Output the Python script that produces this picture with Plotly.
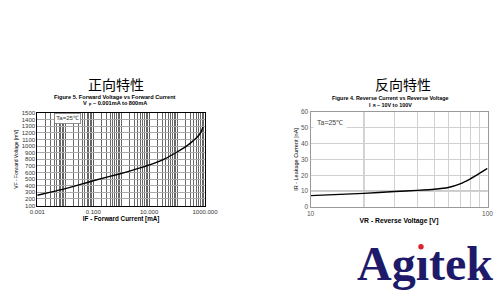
import plotly.graph_objects as go

# ---- data ----
fwd_current_mA = [0.001, 0.01, 0.1, 1, 3.6, 14, 40, 100, 200, 340, 500, 675, 850]
fwd_voltage_mV = [255, 355, 475, 585, 655, 735, 815, 910, 987, 1063, 1125, 1190, 1290]

rev_voltage_V = [10, 20, 30, 40, 50, 60, 70, 80, 90, 100]
rev_current_nA = [7.2, 8.6, 9.8, 10.5, 11.2, 12.3, 14.6, 17.8, 21.2, 24.4]

fwd_major_vals = [0.001, 0.1, 10, 1000]
fwd_major_text = ["0.001", "0.100", "10.000", "1000.000"]
fwd_minor_vals = [m * d for d in [0.001, 0.01, 0.1, 1, 10, 100] for m in range(1, 10)
                  if not (m == 1 and d in (0.001, 0.1, 10))]
fwd_y_ticks = list(range(100, 1501, 100))

rev_major_vals = [10, 100]
rev_major_text = ["10", "100"]
rev_minor_vals = [20, 30, 40, 50, 60, 70, 80, 90]
rev_y_ticks = [0, 10, 20, 30, 40, 50, 60]

W, H = 500, 300
def px(x): return x / W
def py(y): return 1 - y / H

SANS = "Liberation Sans, Arial, sans-serif"
CJK = "Noto Sans CJK SC"

fig = go.Figure()
fig.add_trace(go.Scatter(x=fwd_current_mA, y=fwd_voltage_mV, mode="lines",
                         line=dict(color="black", width=1.4, shape="spline", smoothing=0.6),
                         xaxis="x", yaxis="y", showlegend=False, hoverinfo="skip"))
fig.add_trace(go.Scatter(x=rev_voltage_V, y=rev_current_nA, mode="lines",
                         line=dict(color="black", width=1.4, shape="spline", smoothing=0.6),
                         xaxis="x2", yaxis="y2", showlegend=False, hoverinfo="skip"))

fig.update_layout(
    width=W, height=H, margin=dict(l=0, r=0, t=0, b=0),
    paper_bgcolor="white", plot_bgcolor="white",
    xaxis=dict(domain=[px(37.3), px(205)], type="log", range=[-3, 3],
               tickvals=fwd_major_vals, ticktext=fwd_major_text, ticks="",
               showgrid=True, gridcolor="#555", gridwidth=0.8,
               minor=dict(tickvals=fwd_minor_vals, showgrid=True, gridcolor="#666", gridwidth=0.7, ticks=""),
               showline=True, linecolor="black", linewidth=1, mirror=True,
               tickfont=dict(family=SANS, size=6, color="#333"), zeroline=False, anchor="y",
               automargin=False,
               title=dict(text="<b>IF - Forward Current [mA]</b>", standoff=2,
                          font=dict(family=SANS, size=6.3, color="black"))),
    yaxis=dict(domain=[py(205.5), py(113)], range=[100, 1500],
               tickvals=fwd_y_ticks, ticks="", showgrid=True, gridcolor="#aaa", gridwidth=0.8,
               showline=True, linecolor="black", linewidth=1, mirror=True,
               tickfont=dict(family=SANS, size=6, color="#333"), zeroline=False, anchor="x",
               automargin=False,
               title=dict(text="VF - Forward Voltage [mV]", standoff=2,
                          font=dict(family=SANS, size=5, color="black"))),
    xaxis2=dict(domain=[px(310.5), px(487.5)], type="log", range=[1, 2],
                tickvals=rev_major_vals, ticktext=rev_major_text, ticks="",
                showgrid=False,
                minor=dict(tickvals=rev_minor_vals, showgrid=True, gridcolor="#d0d0d0", gridwidth=1, ticks=""),
                showline=True, linecolor="#999", linewidth=1, mirror=True,
                tickfont=dict(family=SANS, size=6.5, color="#555"), zeroline=False, anchor="y2",
                automargin=False,
                title=dict(text="<b>VR - Reverse Voltage [V]</b>", standoff=2,
                           font=dict(family=SANS, size=6.8, color="black"))),
    yaxis2=dict(domain=[py(207), py(112)], range=[0, 60],
                tickvals=rev_y_ticks, ticks="", showgrid=True, gridcolor="#d0d0d0", gridwidth=1,
                showline=True, linecolor="#999", linewidth=1, mirror=True,
                tickfont=dict(family=SANS, size=6.5, color="#555"), zeroline=False, anchor="x2",
                automargin=False,
                title=dict(text="IR - Leakage Current [nA]", standoff=2,
                           font=dict(family=SANS, size=5.5, color="black"))),
)

# darker grid lines at 20 V and 10 nA
fig.add_shape(type="line", xref="x2 domain", yref="y2", x0=0, x1=1, y0=10, y1=10,
              line=dict(color="#666", width=1), layer="below")
fig.add_shape(type="line", xref="x2", yref="y2 domain", x0=20, x1=20, y0=0, y1=1,
              line=dict(color="#666", width=1), layer="below")

ann = []
def T(x, y, text, size, bold=False, family=SANS, color="black", angle=0, xanchor="center", **kw):
    ann.append(dict(x=px(x), y=py(y), xref="paper", yref="paper", text=("<b>%s</b>" % text) if bold else text,
                    showarrow=False, font=dict(family=family, size=size, color=color),
                    textangle=angle, xanchor=xanchor, yanchor="middle", borderpad=0, **kw))

T(116, 83.5, "正向特性", 14, family=CJK)
T(403, 84, "反向特性", 14, family=CJK)
T(115, 96.7, "Figure 5. Forward Voltage vs Forward Current", 5.6, bold=True)
# "V_F – 0.001mA to 800mA" (subscript drawn as a smaller, lowered text)
T(88.2, 103, "V", 5.6, bold=True, xanchor="right")
T(87.6, 104.3, "F", 4, bold=True, xanchor="left")
T(91.6, 103, "– 0.001mA to 800mA", 5.6, bold=True, xanchor="left")
T(390, 98, "Figure 4. Reverse Current vs Reverse Voltage", 5.4, bold=True)
# "I_R – 10V to 100V"
T(372.0, 104.5, "I", 5.4, bold=True, xanchor="right")
T(371.5, 105.8, "R", 3.8, bold=True, xanchor="left")
T(375.8, 104.5, "– 10V to 100V", 5.4, bold=True, xanchor="left")
ann.append(dict(x=px(54), y=py(118.5), xref="paper", yref="paper", text="Ta=25℃", showarrow=False,
                font=dict(family=SANS, size=6, color="#333"), bgcolor="white", bordercolor="#777",
                borderwidth=0.8, borderpad=1.5))
ann.append(dict(x=px(330), y=py(123), xref="paper", yref="paper", text="Ta=25℃", showarrow=False,
                font=dict(family=SANS, size=7, color="#444"), bgcolor="white", borderpad=3))
T(425, 263, "<b>Agıtek</b>", 48, family="Liberation Serif, Times New Roman, serif", color="#1e1a6a")
fig.update_layout(annotations=ann)

fig.add_shape(type="circle", xref="paper", yref="paper",
              x0=px(418.3), x1=px(423.7), y0=py(249.4), y1=py(244), fillcolor="#e0202a", line=dict(width=0))

fig.write_html("out.html")
